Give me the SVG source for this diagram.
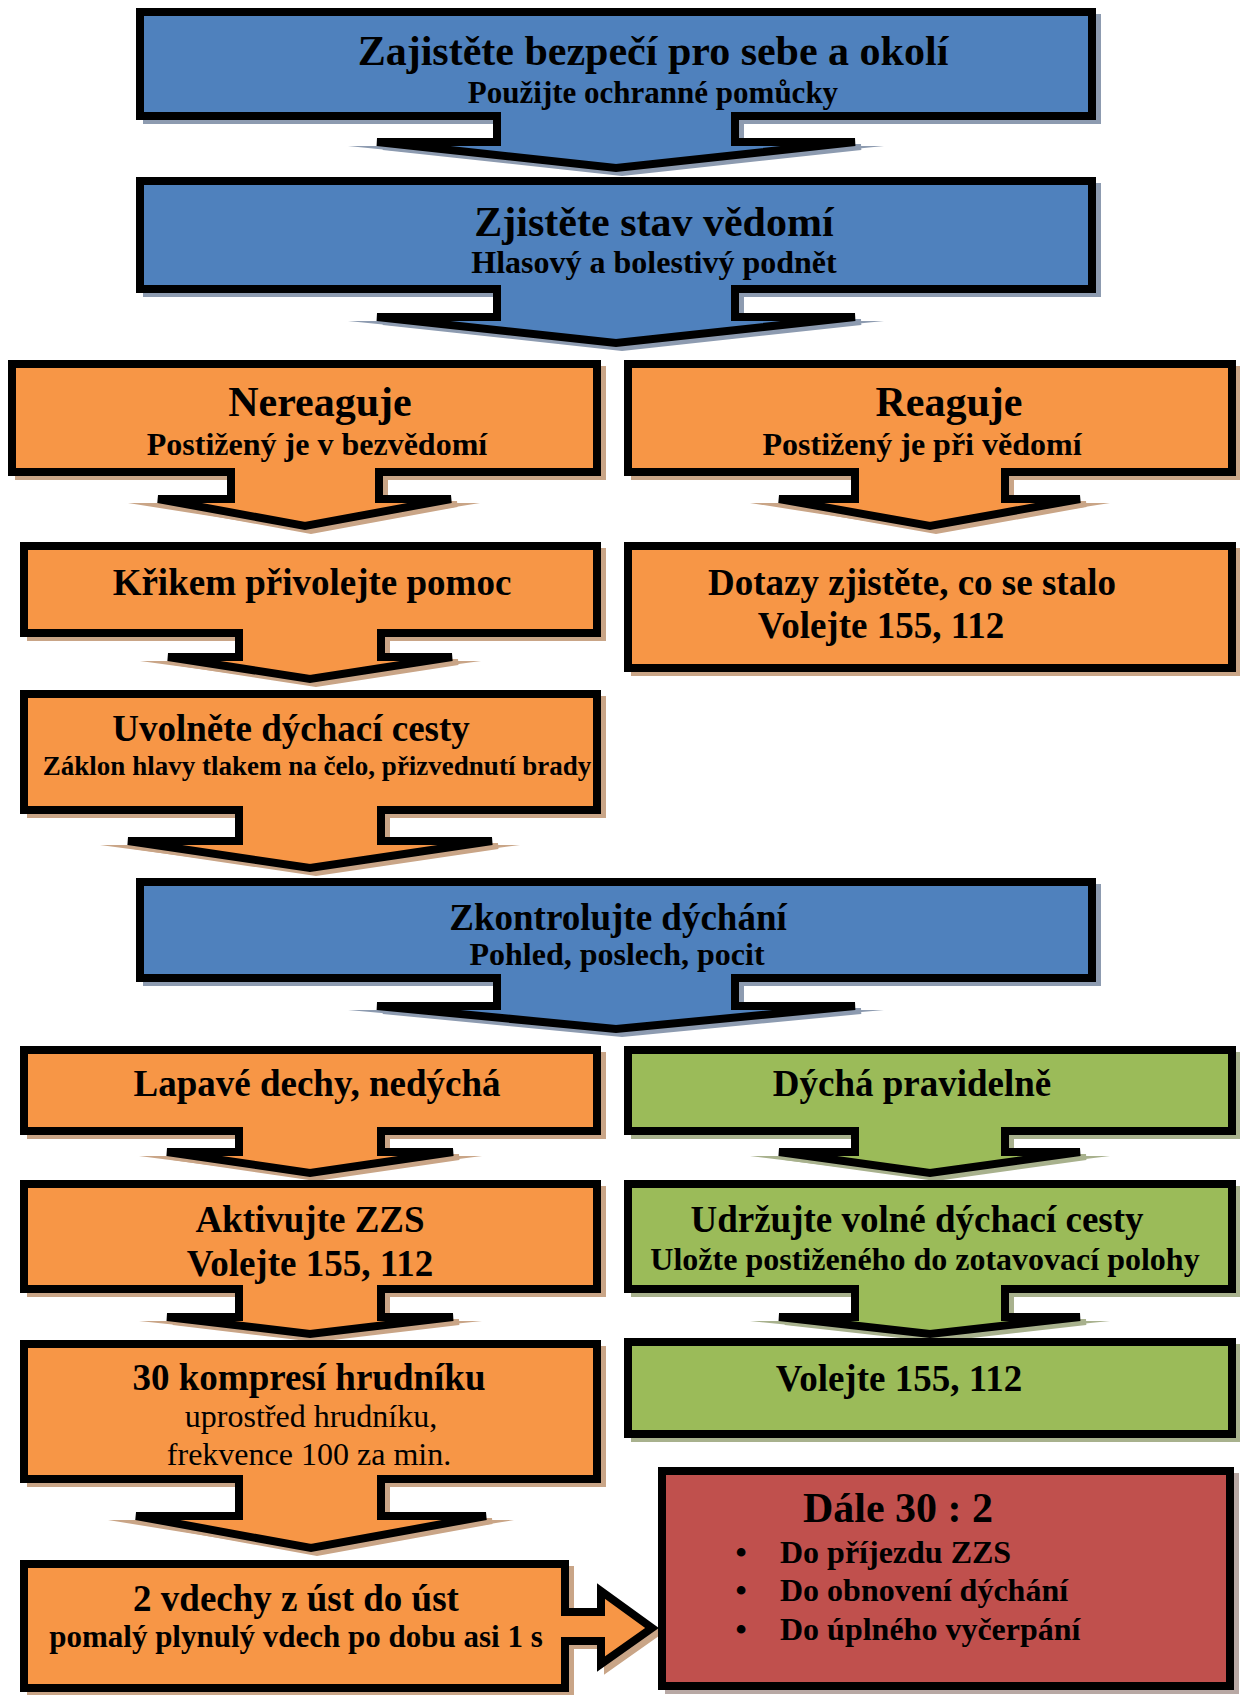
<svg xmlns="http://www.w3.org/2000/svg" width="1240" height="1695" viewBox="0 0 1240 1695">
<style>
.box{stroke:#000;stroke-width:8;stroke-linejoin:miter;stroke-miterlimit:4}
.blue{fill:#4f81bd}.orange{fill:#f79646}.green{fill:#9bbb59}.red{fill:#c0504d}
.shb{fill:#8d9bb0;stroke:#8d9bb0;stroke-width:6}
.sho{fill:#c9a587;stroke:#c9a587;stroke-width:6}
.shg{fill:#a8b18d;stroke:#a8b18d;stroke-width:6}
.shr{fill:#b8a8a4;stroke:#b8a8a4;stroke-width:6}
.w{stroke-width:0}
text{font-family:"Liberation Serif","Times New Roman",serif;font-weight:bold;fill:#000;text-anchor:middle}
.t1{font-size:42px}.t2{font-size:37px}.s1{font-size:32px}.s2{font-size:27px}.s3{font-size:31px}
.reg{font-weight:normal}
.lt{text-anchor:start}
</style>
<rect width="1240" height="1695" fill="#fff"/>
<g id="connectors"/>

<g id="n1">
<path class="shb" transform="translate(6,5)" d="M140,12 H1092 V116 H735 V142 H855 L616,168 L377,142 H497 V116 H140 Z"/>
<polygon class="shb w" points="348,146 884,146 616,173"/>
<path class="box blue" d="M140,12 H1092 V116 H735 V142 H855 L616,168 L377,142 H497 V116 H140 Z"/>
<text class="t1" x="653" y="65">Zajistěte bezpečí pro sebe a okolí</text>
<text class="s3" x="653" y="103">Použijte ochranné pomůcky</text>
</g>

<g id="n2">
<path class="shb" transform="translate(6,5)" d="M140,181 H1092 V289 H735 V317 H855 L616,343 L377,317 H497 V289 H140 Z"/>
<polygon class="shb w" points="348,321 884,321 616,348"/>
<path class="box blue" d="M140,181 H1092 V289 H735 V317 H855 L616,343 L377,317 H497 V289 H140 Z"/>
<text class="t1" x="654" y="236">Zjistěte stav vědomí</text>
<text class="s1" x="654" y="273">Hlasový a bolestivý podnět</text>
</g>

<g id="n3">
<path class="sho" transform="translate(6,5)" d="M12,364 H597 V472 H379 V499 H451 L305,526 L158,499 H231 V472 H12 Z"/>
<polygon class="sho w" points="128,503 480,503 305,531"/>
<path class="box orange" d="M12,364 H597 V472 H379 V499 H451 L305,526 L158,499 H231 V472 H12 Z"/>
<text class="t1" x="320" y="416">Nereaguje</text>
<text class="s1" x="317" y="455">Postižený je v bezvědomí</text>
</g>

<g id="n4">
<path class="sho" transform="translate(6,5)" d="M628,364 H1232 V472 H1005 V499 H1080 L930,526 L779,499 H855 V472 H628 Z"/>
<polygon class="sho w" points="750,503 1110,503 930,531"/>
<path class="box orange" d="M628,364 H1232 V472 H1005 V499 H1080 L930,526 L779,499 H855 V472 H628 Z"/>
<text class="t1" x="949" y="416">Reaguje</text>
<text class="s1" x="922" y="455">Postižený je při vědomí</text>
</g>

<g id="n5">
<path class="sho" transform="translate(6,5)" d="M24,546 H597 V633 H381 V657 H452 L310,679 L168,657 H239 V633 H24 Z"/>
<polygon class="sho w" points="140,661 481,661 310,684"/>
<path class="box orange" d="M24,546 H597 V633 H381 V657 H452 L310,679 L168,657 H239 V633 H24 Z"/>
<text class="t2" x="312" y="595">Křikem přivolejte pomoc</text>
</g>

<g id="n6">
<path class="sho" transform="translate(6,5)" d="M628,546 H1232 V668 H628 Z"/>
<path class="box orange" d="M628,546 H1232 V668 H628 Z"/>
<text class="t2" x="912" y="595">Dotazy zjistěte, co se stalo</text>
<text class="t2" x="881" y="638">Volejte 155, 112</text>
</g>

<g id="n7">
<path class="sho" transform="translate(6,5)" d="M24,694 H597 V810 H381 V841 H492 L310,868 L128,841 H239 V810 H24 Z"/>
<polygon class="sho w" points="100,845 520,845 310,873"/>
<path class="box orange" d="M24,694 H597 V810 H381 V841 H492 L310,868 L128,841 H239 V810 H24 Z"/>
<text class="t2" x="291" y="741">Uvolněte dýchací cesty</text>
<text class="s2" x="317" y="775">Záklon hlavy tlakem na čelo, přizvednutí brady</text>
</g>

<g id="n8">
<path class="shb" transform="translate(6,5)" d="M140,882 H1092 V978 H735 V1006 H855 L616,1029 L377,1006 H497 V978 H140 Z"/>
<polygon class="shb w" points="348,1010 884,1010 616,1034"/>
<path class="box blue" d="M140,882 H1092 V978 H735 V1006 H855 L616,1029 L377,1006 H497 V978 H140 Z"/>
<text class="t2" x="618" y="930">Zkontrolujte dýchání</text>
<text class="s1" x="617" y="965">Pohled, poslech, pocit</text>
</g>

<g id="n9">
<path class="sho" transform="translate(6,5)" d="M24,1050 H597 V1131 H381 V1152 H453 L310,1173 L167,1152 H239 V1131 H24 Z"/>
<polygon class="sho w" points="139,1156 482,1156 310,1178"/>
<path class="box orange" d="M24,1050 H597 V1131 H381 V1152 H453 L310,1173 L167,1152 H239 V1131 H24 Z"/>
<text class="t2" x="317" y="1096">Lapavé dechy, nedýchá</text>
</g>

<g id="n10">
<path class="shg" transform="translate(6,5)" d="M628,1050 H1232 V1131 H1005 V1152 H1080 L930,1173 L779,1152 H855 V1131 H628 Z"/>
<polygon class="shg w" points="750,1156 1110,1156 930,1178"/>
<path class="box green" d="M628,1050 H1232 V1131 H1005 V1152 H1080 L930,1173 L779,1152 H855 V1131 H628 Z"/>
<text class="t2" x="912" y="1096">Dýchá pravidelně</text>
</g>

<g id="n11">
<path class="sho" transform="translate(6,5)" d="M24,1184 H597 V1289 H381 V1317 H453 L310,1334 L167,1317 H239 V1289 H24 Z"/>
<polygon class="sho w" points="139,1321 482,1321 310,1339"/>
<path class="box orange" d="M24,1184 H597 V1289 H381 V1317 H453 L310,1334 L167,1317 H239 V1289 H24 Z"/>
<text class="t2" x="310" y="1232">Aktivujte ZZS</text>
<text class="t2" x="310" y="1276">Volejte 155, 112</text>
</g>

<g id="n12">
<path class="shg" transform="translate(6,5)" d="M628,1184 H1232 V1289 H1005 V1317 H1080 L930,1334 L779,1317 H855 V1289 H628 Z"/>
<polygon class="shg w" points="750,1321 1110,1321 930,1339"/>
<path class="box green" d="M628,1184 H1232 V1289 H1005 V1317 H1080 L930,1334 L779,1317 H855 V1289 H628 Z"/>
<text class="t2" x="917" y="1232">Udržujte volné dýchací cesty</text>
<text class="s1" x="925" y="1270">Uložte postiženého do zotavovací polohy</text>
</g>

<g id="n13">
<path class="sho" transform="translate(6,5)" d="M24,1344 H597 V1479 H381 V1516 H486 L311,1548 L136,1516 H239 V1479 H24 Z"/>
<polygon class="sho w" points="108,1520 514,1520 311,1553"/>
<path class="box orange" d="M24,1344 H597 V1479 H381 V1516 H486 L311,1548 L136,1516 H239 V1479 H24 Z"/>
<text class="t2" x="309" y="1390">30 kompresí hrudníku</text>
<text class="s1 reg" x="311" y="1427">uprostřed hrudníku,</text>
<text class="s1 reg" x="309" y="1465">frekvence 100 za min.</text>
</g>

<g id="n14">
<path class="shg" transform="translate(6,5)" d="M628,1342 H1232 V1434 H628 Z"/>
<path class="box green" d="M628,1342 H1232 V1434 H628 Z"/>
<text class="t2" x="899" y="1391">Volejte 155, 112</text>
</g>

<g id="n15">
<path class="sho" transform="translate(6,5)" d="M24,1564 H565 V1612 H601 V1591 L652,1628 L601,1664 V1641 H565 V1688 H24 Z"/>
<path class="box orange" d="M24,1564 H565 V1612 H601 V1591 L652,1628 L601,1664 V1641 H565 V1688 H24 Z"/>
<text class="t2" x="296" y="1611">2 vdechy z úst do úst</text>
<text class="s3" x="296" y="1647">pomalý plynulý vdech po dobu asi 1 s</text>
</g>

<g id="n16">
<path class="shr" transform="translate(6,5)" d="M662,1471 H1230 V1686 H662 Z"/>
<path class="box red" d="M662,1471 H1230 V1686 H662 Z"/>
<text class="t1" x="898" y="1522">Dále 30 : 2</text>
<text class="s1" x="741" y="1563">•</text>
<text class="s1 lt" x="780" y="1563">Do příjezdu ZZS</text>
<text class="s1" x="741" y="1601">•</text>
<text class="s1 lt" x="780" y="1601">Do obnovení dýchání</text>
<text class="s1" x="741" y="1640">•</text>
<text class="s1 lt" x="780" y="1640">Do úplného vyčerpání</text>
</g>
</svg>
